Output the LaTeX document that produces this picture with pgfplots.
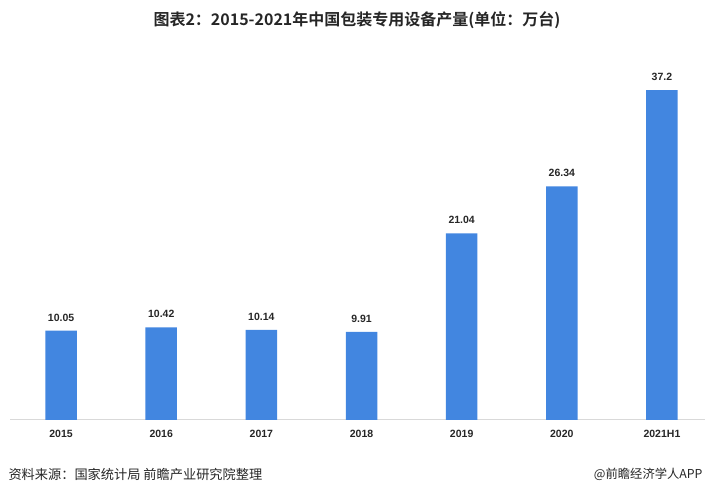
\documentclass[border=0pt]{standalone}
\usepackage{pgfplots}
\pgfplotsset{compat=1.18}
\usepackage{fontspec}
\setmainfont{Liberation Sans}
\newfontfamily\cjk{Noto Sans CJK SC}
\newfontfamily\cjkb{Noto Sans CJK SC Bold}
\definecolor{barblue}{HTML}{4286E0}
\definecolor{axgray}{HTML}{D9D9D9}
\definecolor{txt}{HTML}{262626}
\begin{document}
\begin{tikzpicture}[x=1pt,y=1pt]
\useasboundingbox (0,0) rectangle (714,496);
\begin{axis}[
  at={(10,86)}, anchor=south west,
  scale only axis, width=695pt, height=358pt,
  xmin=-0.51, xmax=6.43, ymin=0, ymax=40.4,
  axis y line=none,
  axis x line*=bottom,
  x axis line style={axgray, line width=0.8pt, -},
  xtick=data,
  xticklabels={2015,2016,2017,2018,2019,2020,2021H1},
  xtick style={draw=none},
  xticklabel style={font=\fontsize{10.5}{12}\selectfont\bfseries, text=txt, yshift=-3pt},
  ybar, bar width=31.5pt,
  nodes near coords={\pgfmathprintnumber[fixed,precision=2]{\pgfplotspointmeta}},
  nodes near coords style={font=\fontsize{10.5}{12}\selectfont\bfseries, text=txt, yshift=6pt},
  /pgf/number format/assume math mode=true,
  clip=false,
]
\addplot[fill=barblue, draw=none] coordinates {(0,10.05) (1,10.42) (2,10.14) (3,9.91) (4,21.04) (5,26.34) (6,37.2)};
\end{axis}
\node[font=\cjkb\fontsize{16}{18}\selectfont, text=txt] at (357,476) {图表2：2015-2021年中国包装专用设备产量(单位：万台)};
\node[font=\cjk\fontsize{13.2}{15}\selectfont, text=txt, anchor=west] at (5,22) {资料来源：国家统计局 前瞻产业研究院整理};
\node[font=\cjk\fontsize{12.3}{14}\selectfont, text=txt, anchor=east] at (706,22) {@前瞻经济学人APP};
\end{tikzpicture}
\end{document}
